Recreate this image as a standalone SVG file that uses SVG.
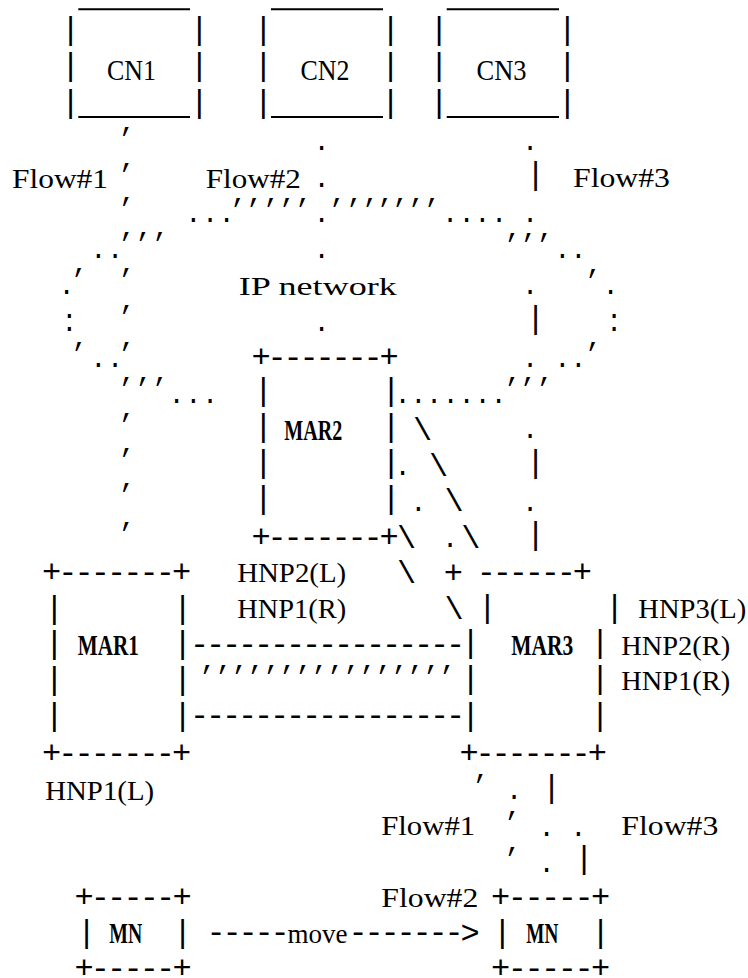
<svg xmlns="http://www.w3.org/2000/svg" width="748" height="978" viewBox="0 0 748 978">
<style>
text{font-family:"Liberation Mono","DejaVu Sans Mono",monospace;fill:#000;text-anchor:middle}
.lb{font-family:"Liberation Serif","DejaVu Serif",serif;font-size:27px}
.lbb{font-family:"Liberation Serif","DejaVu Serif",serif;font-size:30px}
.lbm{font-family:"Liberation Serif","DejaVu Serif",serif;font-size:29px;font-weight:bold}
.lbi{font-family:"Liberation Serif","DejaVu Serif",serif;font-size:25px}
.g{font-size:32px;text-anchor:middle}
.p{font-size:27px;text-anchor:middle}
.ul{stroke:#000;stroke-width:2}
</style>
<rect width="748" height="978" fill="#fff"/>
<g id="cn1">
<line class="ul" x1="78.3" y1="9.3" x2="190" y2="9.3"/>
<line class="ul" x1="78.3" y1="117" x2="190" y2="117"/>
<text class="g" x="70.7 70.7 70.7" y="39.4 75.4 112.4">|||</text>
<text class="g" x="199.3 199.3 199.3" y="39.4 75.4 112.4">|||</text>
<text class="lbb" x="131.5" y="80" textLength="49" lengthAdjust="spacingAndGlyphs">CN1</text>
</g>
<g id="cn2">
<line class="ul" x1="271" y1="9.3" x2="383" y2="9.3"/>
<line class="ul" x1="271" y1="117" x2="383" y2="117"/>
<text class="g" x="263.3 263.3 263.3" y="39.4 75.4 112.4">|||</text>
<text class="g" x="390.7 390.7 390.7" y="39.4 75.4 112.4">|||</text>
<text class="lbb" x="325" y="80" textLength="49" lengthAdjust="spacingAndGlyphs">CN2</text>
</g>
<g id="cn3">
<line class="ul" x1="446.7" y1="9.3" x2="559" y2="9.3"/>
<line class="ul" x1="446.7" y1="117" x2="559" y2="117"/>
<text class="g" x="439 439 439" y="39.4 75.4 112.4">|||</text>
<text class="g" x="567.3 567.3 567.3" y="39.4 75.4 112.4">|||</text>
<text class="lbb" x="501.5" y="80" textLength="50" lengthAdjust="spacingAndGlyphs">CN3</text>
</g>
<g id="mar2">
<text class="g" x="261 277 293 309 325 341 357 373 389" y="366.5">+-------+</text>
<text class="g" x="263.3 263.3 263.3 263.3" y="400.4 436.4 472.4 508.4">||||</text>
<text class="g" x="391 391 391 391" y="400.4 436.4 472.4 508.4">||||</text>
<text class="g" x="261 277 293 309 325 341 357 373 389" y="546.5">+-------+</text>
<text class="lbm" x="313.3" y="440" textLength="58" lengthAdjust="spacingAndGlyphs">MAR2</text>
</g>
<g id="mar1">
<text class="g" x="51.7 67.9 84.2 100.4 116.7 132.9 149.2 165.4 181.7" y="581.5">+-------+</text>
<text class="g" x="54.3 54.3 54.3 54.3" y="617.7 653.4 688.9 725.4">||||</text>
<text class="g" x="182.7 182.7 182.7 182.7" y="617.7 653.4 688.9 725.4">||||</text>
<text class="g" x="51.7 67.9 84.2 100.4 116.7 132.9 149.2 165.4 181.7" y="762.8">+-------+</text>
<text class="lbm" x="108.3" y="655" textLength="61" lengthAdjust="spacingAndGlyphs">MAR1</text>
</g>
<g id="mar3">
<text class="g" x="453.3" y="582.7">+</text>
<text class="g" x="486.3 502.3 518.3 534.3 550.3 566.3 582.3" y="581.5">------+</text>
<text class="g" x="487.3 470.7 470.7 470.7" y="617.1 652.4 688.4 725.4">||||</text>
<text class="g" x="614.7 600 600 600" y="617.1 652.4 688.4 725.4">||||</text>
<text class="g" x="469 485 501 517 533 549 565 581 597.3" y="762.8">+-------+</text>
<text class="lbm" x="542.3" y="655" textLength="62" lengthAdjust="spacingAndGlyphs">MAR3</text>
</g>
<g id="mn1">
<text class="g" x="84 100.3 116.7 133 149.3 165.7 182" y="906.5">+-----+</text>
<text class="g" x="86.7" y="941.9">|</text>
<text class="g" x="182.7" y="941.9">|</text>
<text class="g" x="84 100.3 116.7 133 149.3 165.7 182" y="978.1">+-----+</text>
<text class="lbm" x="125.8" y="943.3" textLength="33" lengthAdjust="spacingAndGlyphs">MN</text>
</g>
<g id="mn2">
<text class="g" x="500.7 517.4 534 550.7 567.4 584 600.7" y="906.5">+-----+</text>
<text class="g" x="502.3" y="941.9">|</text>
<text class="g" x="600.7" y="941.9">|</text>
<text class="g" x="500.7 517.4 534 550.7 567.4 584 600.7" y="978.1">+-----+</text>
<text class="lbm" x="542.3" y="943.3" textLength="32" lengthAdjust="spacingAndGlyphs">MN</text>
</g>
<g id="connectors">
<text class="p" x="127.7 127.7 127.7 127.7 127.7 127.7 127.7 127.7 127.7 127.7 127.7 127.7" y="130.5 167.2 200.5 235.5 272.2 308.8 345.5 380.5 417.2 452.2 487.2 525.5">,,,,,,,,,,,,</text>
<text class="p" x="144.3 161 144.3 161" y="235.5 235.5 380.5 380.5">,,,,</text>
<text class="p" x="98.3 115 80 66.7 69.3 69.3 80 98.3 115" y="258.2 258.2 272.2 294.2 318.2 330.5 345.5 366.5 366.5">..,...,..</text>
<text class="p" x="193.3 210 226.7" y="221.5">...</text>
<text class="p" x="176.7 193.3 210" y="403.2">...</text>
<text class="p" x="321.7 321.7 321.7 321.7" y="149.8 186.5 221.5 258.2">....</text>
<text class="p" x="321.7" y="330.5">.</text>
<text class="p" x="239 255 272 288 304" y="202.2">,,,,,</text>
<text class="p" x="338 355 371 386 401 417 433" y="202.2">,,,,,,,</text>
<text class="p" x="450 466.7 482.3 499" y="221.5">....</text>
<text><tspan class="p" x="530 530 530 530 530 530" y="149.8 221.5 294.2 366.5 438.2 510.8">......</tspan><tspan class="g" x="535.7 535.7 535.7 535.7" y="183.9 328.4 472.4 544.4">||||</tspan><tspan class="p" x="513.3 529.5 545.7 513.3 529 545.7" y="237.2 237.2 237.2 381.2 381.2 381.2">,,,,,,</tspan></text>
<text class="p" x="562.3 578.3 594 610.7 614 614 594 562.3 578.3" y="258.2 258.2 273.2 294.2 318.2 330.5 345.5 366.5 366.5">..,...,..</text>
<text class="p" x="402.7 418.3 434 450.7 466.7 482.7 498.7" y="403.2">.......</text>
<text><tspan class="g" x="422.5 438.5 454.2 406.5 470.8 406.5 454.2" y="439.5 475.5 511.2 547.5 547.5 583.3 619.2">\\\\\\\</tspan><tspan class="p" x="402.7 418.3 450" y="474.8 510.5 546.5">...</tspan></text>
<text><tspan class="g" x="199.7 215.7 231.7 247.7 263.7 279.7 295.7 311.7 327.7 343.7 359.7 375.7 391.7 407.7 423.7 439.7 455.7" y="653.7">-----------------</tspan><tspan class="p" x="208.3 224.3 240.3 256.3 272.3 288.3 304.3 320.3 336.3 352.3 368.3 384.3 400.3 416.3 432.3 448.3" y="668.8">,,,,,,,,,,,,,,,,</tspan><tspan class="g" x="199.7 215.7 231.7 247.7 263.7 279.7 295.7 311.7 327.7 343.7 359.7 375.7 391.7 407.7 423.7 439.7 455.7" y="725.4">-----------------</tspan></text>
<text><tspan class="p" x="481.7 513.3 513.3" y="778.2 814.8 850.5">,,,</tspan><tspan class="p" x="514 546.7 578.3 546.7" y="799.2 835.5 835.5 871.5">....</tspan><tspan class="g" x="551.7 584" y="796.9 868.4">||</tspan></text>
<text><tspan class="g" x="216 232 248 264 280" y="942.1">-----</tspan><tspan class="lb" x="317.5" y="943.3">move</tspan><tspan class="g" x="358 374 390 406 422 438 454 470" y="942.1 942.1 942.1 942.1 942.1 942.1 942.1 943">-------&gt;</tspan></text>
</g>
<g id="labels">
<text class="lb" x="60" y="188" textLength="96" lengthAdjust="spacingAndGlyphs">Flow#1</text>
<text class="lb" x="253.3" y="188" textLength="95" lengthAdjust="spacingAndGlyphs">Flow#2</text>
<text class="lb" x="621.5" y="187" textLength="97" lengthAdjust="spacingAndGlyphs">Flow#3</text>
<text class="lbi" x="317.8" y="295" textLength="158" lengthAdjust="spacingAndGlyphs">IP network</text>
<text class="lb" x="291.7" y="581.7" textLength="109" lengthAdjust="spacingAndGlyphs">HNP2(L)</text>
<text class="lb" x="291.7" y="618.3" textLength="109" lengthAdjust="spacingAndGlyphs">HNP1(R)</text>
<text class="lb" x="692.3" y="618.3" textLength="108" lengthAdjust="spacingAndGlyphs">HNP3(L)</text>
<text class="lb" x="675.7" y="655" textLength="109" lengthAdjust="spacingAndGlyphs">HNP2(R)</text>
<text class="lb" x="675.7" y="690" textLength="109" lengthAdjust="spacingAndGlyphs">HNP1(R)</text>
<text class="lb" x="99.7" y="800" textLength="109" lengthAdjust="spacingAndGlyphs">HNP1(L)</text>
<text class="lb" x="428.2" y="835" textLength="94" lengthAdjust="spacingAndGlyphs">Flow#1</text>
<text class="lb" x="669.8" y="835" textLength="97" lengthAdjust="spacingAndGlyphs">Flow#3</text>
<text class="lb" x="429.8" y="906.7" textLength="97" lengthAdjust="spacingAndGlyphs">Flow#2</text>
</g>
</svg>
